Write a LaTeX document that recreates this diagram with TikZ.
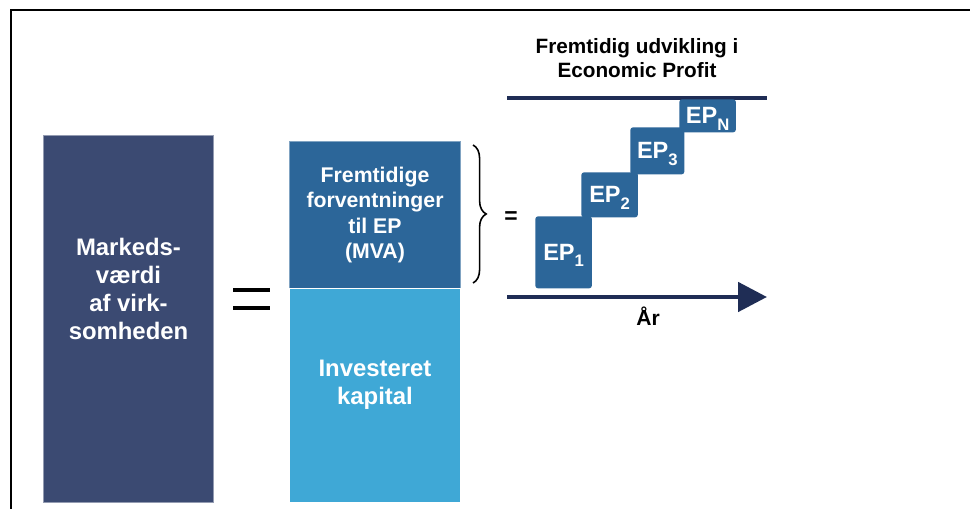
\documentclass[tikz,border=0pt]{standalone}
\usepackage{fontspec}
\setmainfont{Liberation Sans}
\usetikzlibrary{arrows.meta,decorations.pathreplacing}
\definecolor{mvblue}{HTML}{3B4A72}
\definecolor{epblue}{HTML}{2C6699}
\definecolor{capblue}{HTML}{3FA8D6}
\definecolor{axisblue}{HTML}{1F2D55}
\newcommand{\eplabel}[1]{EP\smash{\raisebox{-0.5ex}{\fontsize{9.5}{9.5}\selectfont #1}}}
\tikzset{
  bigbox/.style={rectangle,inner sep=0pt,anchor=north west,line width=0.6pt},
  boxtext/.style={text=white,align=center,font=\bfseries\fontsize{13.6}{15.9}\selectfont},
  epbox/.style={rectangle,fill=epblue,rounded corners=1.5pt,inner sep=0pt,anchor=north west,
    text=white,font=\bfseries\fontsize{13.4}{13.4}\selectfont,minimum width=1.13cm},
  axisline/.style={draw=axisblue},
  frameline/.style={line width=1.1pt}
}

\begin{document}
\begin{tikzpicture}[x=0.02cm,y=-0.02cm]
  \useasboundingbox (0,0) rectangle (970,509);
  \coordinate (fbot) at (11,509);
  \coordinate (fcorner) at (11,10);
  \coordinate (fright) at (970,10);
  \draw[frameline] (fbot)--(fcorner)--(fright);

  \node[bigbox,fill=mvblue,draw=mvblue!55!white,minimum width=3.4cm,minimum height=7.34cm] (mv) at (43,135) {};
  \node[boxtext] at ([yshift=0.6cm]mv.center) {Markeds-\\værdi\\af virk-\\somheden};

  \node[bigbox,fill=epblue,draw=epblue!60!white,minimum width=3.42cm,minimum height=2.94cm] (mva) at (289,141) {};
  \node[boxtext,font=\bfseries\fontsize{12.1}{14.5}\selectfont] at (mva.center) {Fremtidige\\forventninger\\til EP\\(MVA)};
  \node[bigbox,fill=capblue,draw=white,minimum width=3.42cm,minimum height=4.28cm] (cap) at (289,288) {};
  \node[boxtext] at ([yshift=0.22cm]cap.center) {Investeret\\kapital};

  \draw[line width=2.4pt] (233,290)--(270,290);
  \draw[line width=2.4pt] (233,308)--(270,308);

  \coordinate (btop) at (473,145);
  \coordinate (bbot) at (473,283);
  \draw[line width=0.9pt,decorate,decoration={brace,amplitude=7.5pt}] (btop)--(bbot);
  \node[font=\bfseries\fontsize{13}{13}\selectfont] (eq) at (511,218) {=};

  \node[align=center,font=\bfseries\fontsize{11.8}{13.7}\selectfont] (title) at (637,58)
    {Fremtidig udvikling i\\Economic Profit};
  \coordinate (tl) at (507,98);
  \coordinate (tr) at (767,98);
  \draw[axisline,line width=2.3pt] (tl)--(tr);

  \node[epbox,minimum height=1.44cm] (ep1) at (535,216) {\eplabel{1}};
  \node[epbox,minimum height=0.9cm] (ep2) at (581,172) {\eplabel{2}};
  \node[epbox,minimum height=0.94cm,minimum width=1.08cm] (ep3) at (630,127) {\eplabel{3}};
  \node[epbox,minimum height=0.66cm] (epn) at (679,99) {\eplabel{N}};

  \coordinate (ax0) at (507,297);
  \coordinate (ax1) at (767,297);
  \draw[axisline,line width=2.8pt,-{Triangle[length=0.58cm,width=0.58cm]}] (ax0)--(ax1);
  \node[font=\bfseries\fontsize{12}{12}\selectfont] (aar) at (648,316) {År};
\end{tikzpicture}
\end{document}
